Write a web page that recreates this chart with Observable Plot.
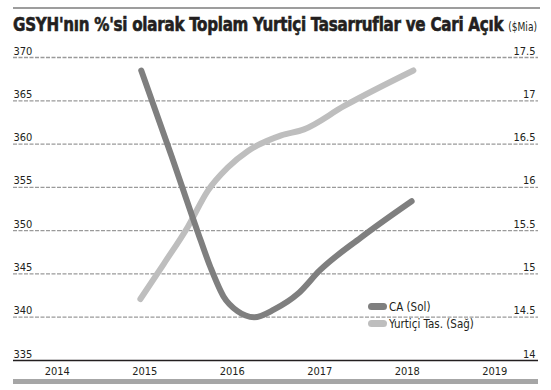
<!DOCTYPE html>
<html>
<head>
<meta charset="utf-8">
<script src="https://cdn.jsdelivr.net/npm/d3@7"></script>
<script src="https://cdn.jsdelivr.net/npm/@observablehq/plot@0.6"></script>
<style>
  html, body { margin: 0; padding: 0; background: #fff; }
  #wrap { position: relative; width: 551px; height: 390px; overflow: hidden;
          font-family: "DejaVu Sans Condensed", "DejaVu Sans", sans-serif; font-stretch: condensed; }
  #topline { position: absolute; left: 13px; top: 7px; width: 527px; height: 2px; background: #9d9d9d; }
  #bottombar { position: absolute; left: 13px; top: 379px; width: 525px; height: 5px; background: #a6a6a6; }
  #title { position: absolute; left: 13px; top: 12px; white-space: nowrap; transform-origin: left top;
           font-family: "Liberation Sans Narrow", "DejaVu Sans Condensed", "DejaVu Sans", sans-serif;
           font-stretch: condensed; font-weight: bold; font-size: 20px; color: #231f20; letter-spacing: -0.3px;
           -webkit-text-stroke: 0.6px #231f20; }
  #title .unit { font-weight: normal; font-size: 12px; letter-spacing: 0; -webkit-text-stroke: 0; }
  #legend { position: absolute; left: 368px; top: 298px; font-size: 11.5px; color: #231f20; }
  .row { display: flex; align-items: center; height: 17px; }
  .sw { width: 19px; height: 7px; border-radius: 4px; margin-right: 2px; }
  svg { position: absolute; left: 0; top: 0; }
</style>
</head>
<body>
<div id="wrap">
  <div id="topline"></div>
  <div id="title">GSYH'nın %'si olarak Toplam Yurtiçi Tasarruflar ve Cari Açık <span class="unit">($Mia)</span></div>
  <div id="bottombar"></div>
</div>
<script>
// ---- data ----
const years = [2014, 2015, 2016, 2017, 2018, 2019];
const leftTicks = [335, 340, 345, 350, 355, 360, 365, 370];
const rightTicks = [14, 14.5, 15, 15.5, 16, 16.5, 17, 17.5];
const rightTickLabels = ["14", "14.5", "15", "15.5", "16", "16.5", "17", "17.5"];

const caYears  = [2014.96, 2015.30, 2015.60, 2015.75, 2015.90, 2016.06, 2016.25, 2016.48, 2016.75, 2017.00, 2017.47, 2018.05];
const caValues = [368.5, 358.8, 350.0, 345.8, 342.4, 340.7, 340.0, 340.9, 342.7, 345.4, 349.2, 353.4];

const ytYears  = [2014.95, 2015.22, 2015.49, 2015.72, 2015.95, 2016.18, 2016.56, 2016.82, 2017.28, 2018.07];
const ytValues = [14.71, 15.12, 15.54, 15.96, 16.23, 16.42, 16.60, 16.67, 16.94, 17.35];

const seriesNames = ["CA (Sol)", "Yurtiçi Tas. (Sağ)"];
const seriesColors = ["#7f7f7f", "#bebebe"];

// right axis (14..17.5) mapped onto the left scale (335..370)
const toLeft = r => 335 + (r - 14) * 10;

const ca = caYears.map((x, i) => ({x, y: caValues[i]}));
const yt = ytYears.map((x, i) => ({x, y: toLeft(ytValues[i])}));
const grid = leftTicks.filter(d => d > 335);

const chart = Plot.plot({
  width: 551,
  height: 390,
  marginLeft: 13,
  marginRight: 13,
  marginTop: 57,
  marginBottom: 30,
  x: {domain: [2013.5, 2019.5], axis: null},
  y: {domain: [335, 370], axis: null},
  style: {fontFamily: '"DejaVu Sans Condensed", "DejaVu Sans", sans-serif', fontSize: "11px", color: "#231f20", background: "transparent"},
  marks: [
    Plot.ruleY(grid, {y: d => d, stroke: "#9a9a9a", strokeWidth: 1.3, strokeDasharray: "4,1.5"}),
    Plot.ruleY([335], {stroke: "#231f20", strokeWidth: 1.5}),
    Plot.text(leftTicks, {y: d => d, frameAnchor: "left", textAnchor: "start", lineAnchor: "bottom", dy: -3, text: d => String(d), fill: "#231f20"}),
    Plot.text(rightTicks, {y: d => toLeft(d), frameAnchor: "right", textAnchor: "end", lineAnchor: "bottom", dy: -3, dx: -3, text: (d, i) => rightTickLabels[i], fill: "#231f20"}),
    Plot.text(years, {x: d => d, y: 335, dy: 11, lineAnchor: "middle", text: d => String(d), fill: "#231f20"}),
    Plot.line(yt, {x: "x", y: "y", stroke: seriesColors[1], strokeWidth: 6, strokeLinecap: "round", strokeLinejoin: "round", curve: "monotone-x"}),
    Plot.line(ca, {x: "x", y: "y", stroke: seriesColors[0], strokeWidth: 6, strokeLinecap: "round", strokeLinejoin: "round", curve: "monotone-x"})
  ]
});
const wrap = document.getElementById("wrap");
wrap.insertBefore(chart, wrap.firstChild);

// legend
const legend = document.createElement("div");
legend.id = "legend";
seriesNames.forEach((name, i) => {
  const row = document.createElement("div");
  row.className = "row";
  const sw = document.createElement("div");
  sw.className = "sw";
  sw.style.background = seriesColors[i];
  const t = document.createElement("span");
  t.textContent = name;
  row.appendChild(sw); row.appendChild(t);
  legend.appendChild(row);
});
wrap.appendChild(legend);

// fit title to the reference width
const title = document.getElementById("title");
const w = title.getBoundingClientRect().width;
title.style.transform = `scaleX(${524 / w})`;
</script>
</body>
</html>
